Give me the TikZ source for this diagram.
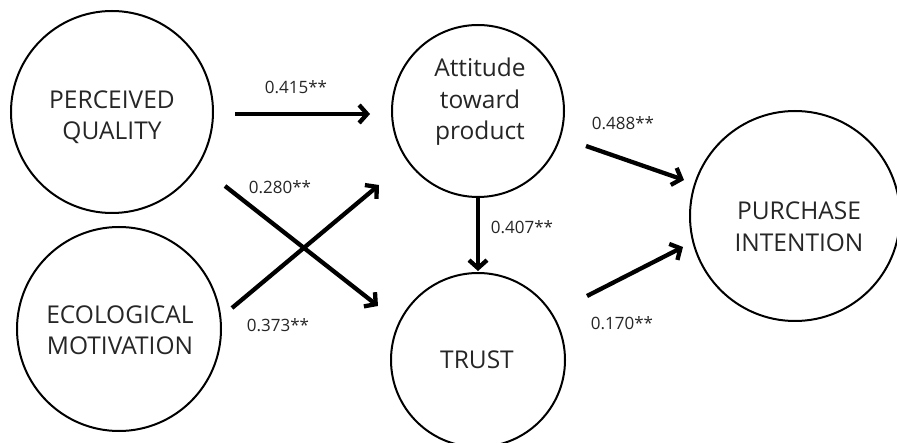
\documentclass[tikz,border=0pt]{standalone}
\usepackage{fontspec}
\setmainfont{Open Sans}
\usetikzlibrary{arrows.meta}
\definecolor{txtgray}{HTML}{262626}
\begin{document}
\begin{tikzpicture}[x=1pt,y=-1pt,
  circ/.style={circle,draw=black,line width=2pt,inner sep=0pt,outer sep=0pt},
  lbl/.style={align=center,text=txtgray,font=\fontsize{24.5}{31.5}\selectfont,inner sep=0pt},
  coef/.style={text=txtgray,font=\fontsize{17}{20}\selectfont,inner sep=0pt},
  arr/.style={line width=4.3pt,-{Straight Barb[length=8pt,width=18pt,line join=miter]}}
]
\clip (0,0) rectangle (897,443);
\fill[white] (0,0) rectangle (897,443);
% circles
\node[circ,minimum size=202pt] (pq) at (112,112) {};
\node[circ,minimum size=204pt] (em) at (119,329) {};
\node[circ,minimum size=172pt] (att) at (478,111) {};
\node[circ,minimum size=174pt] (trust) at (478,360) {};
\node[circ,minimum size=210pt] (pi) at (795,216) {};
% labels
\node[lbl] (pqT) at ([shift={(0,5)}]pq.center) {PERCEIVED\\QUALITY};
\node[lbl] (emT) at ([shift={(1,1)}]em.center) {ECOLOGICAL\\MOTIVATION};
\node[lbl] (attT) at ([shift={(2,-9)}]att.center) {Attitude\\toward\\product};
\node[lbl] (trustT) at ([shift={(-1,0)}]trust.center) {TRUST};
\node[lbl] (piT) at ([shift={(4,11)}]pi.center) {PURCHASE\\INTENTION};
% arrows
\draw[arr] ([shift={(123,2)}]pq.center) -- ([shift={(-108,3)}]att.center);
\draw[arr] ([shift={(113,74)}]pq.center) -- ([shift={(-100,-54)}]trust.center);
\draw[arr] ([shift={(113,-21)}]em.center) -- ([shift={(-99,74)}]att.center);
\draw[arr] (att.south) -- ([shift={(0,-2)}]trust.north);
\draw[arr] ([shift={(108,35)}]att.center) -- ([shift={(-111,-36)}]pi.center);
\draw[arr] ([shift={(109,-64)}]trust.center) -- ([shift={(-112,31)}]pi.center);
% coefficients
\node[coef] (c1) at (296,87) {0.415**};
\node[coef] (c2) at (280,187) {0.280**};
\node[coef] (c3) at (278,325) {0.373**};
\node[coef] (c4) at (522,227) {0.407**};
\node[coef] (c5) at (623,123) {0.488**};
\node[coef] (c6) at (622,323) {0.170**};
\end{tikzpicture}
\end{document}
